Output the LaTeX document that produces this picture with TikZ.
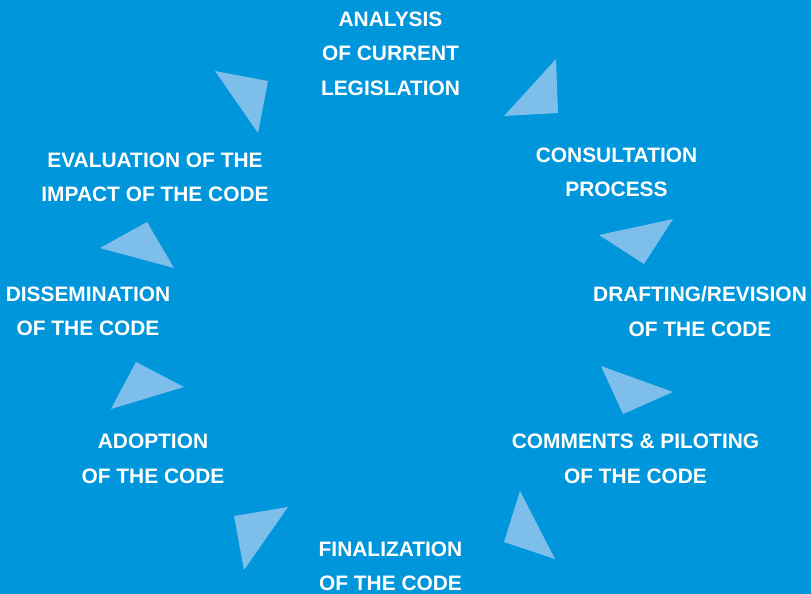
\documentclass[tikz,border=0pt]{standalone}
\usepackage{fontspec}
\setmainfont{Liberation Sans}
\definecolor{bgblue}{RGB}{0,150,219}
\definecolor{triblue}{RGB}{125,191,234}
\begin{document}
\begin{tikzpicture}[x=1pt,y=-1pt,
  lbl/.style={text=white, font=\bfseries\fontsize{20.9}{34.5}\selectfont, align=center, inner sep=0pt},
  tri/.style={fill=triblue, draw=none}]
\fill[bgblue] (0,0) rectangle (811,594);
\useasboundingbox (0,0) rectangle (811,594);
% labels
\node[lbl] (analysis) at (390.5,53.5) {ANALYSIS\\OF CURRENT\\LEGISLATION};
\node[lbl] (consult) at (616.5,172.5) {CONSULTATION\\PROCESS};
\node[lbl] (draft) at (700,311.5) {DRAFTING/REVISION\\OF THE CODE};
\node[lbl] (comments) at (635.5,459) {COMMENTS \& PILOTING\\OF THE CODE};
\node[lbl] (final) at (390.5,566.5) {FINALIZATION\\OF THE CODE};
\node[lbl] (adopt) at (153,459) {ADOPTION\\OF THE CODE};
\node[lbl] (dissem) at (88,311.5) {DISSEMINATION\\OF THE CODE};
\node[lbl] (eval) at (155,177.5) {EVALUATION OF THE\\IMPACT OF THE CODE};
% triangles
\fill[tri] (556,59) -- (558,113) -- (504,116) -- cycle;
\fill[tri] (673,219) -- (599,235) -- (644,264) -- cycle;
\fill[tri] (601,366) -- (673,392) -- (623,414) -- cycle;
\fill[tri] (520,491) -- (555,559) -- (504,542) -- cycle;
\fill[tri] (234,516) -- (288,507) -- (244,570) -- cycle;
\fill[tri] (136,362) -- (184,387) -- (111,409) -- cycle;
\fill[tri] (147,222) -- (100,248) -- (174,268) -- cycle;
\fill[tri] (215,71) -- (268,81) -- (258,133) -- cycle;
\end{tikzpicture}
\end{document}
